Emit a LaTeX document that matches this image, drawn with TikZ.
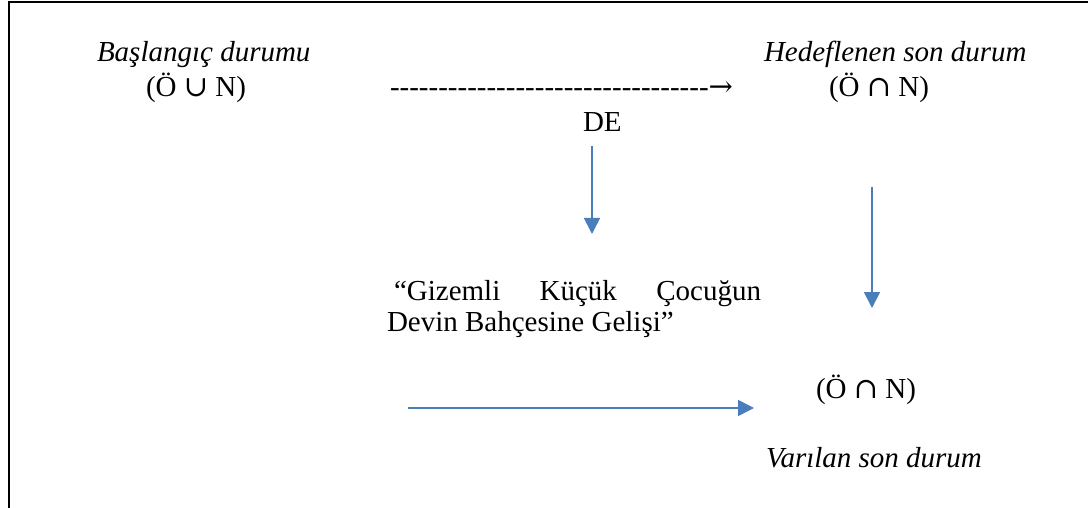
\documentclass[tikz,border=0pt]{standalone}
\usepackage{fontspec}
\setmainfont{Liberation Serif}
% hyphens must stay hyphens in the dashed arrow line
\newfontfamily\plainserif{Liberation Serif}[Ligatures=TeXOff]
% set operators and the text arrow
\newfontfamily\symserif{DejaVu Serif}
\newcommand{\setcup}{{\symserif ∪}}
\newcommand{\setcap}{{\symserif ∩}}
\usetikzlibrary{arrows.meta}
\definecolor{flowblue}{RGB}{74,126,187}
\begin{document}
\begin{tikzpicture}[x=1pt,y=-1pt,
  lbl/.style={inner sep=0pt, outer sep=0pt, anchor=base west,
              font=\fontsize{29}{32}\selectfont},
  ital/.style={lbl, font=\fontsize{29}{32}\selectfont\itshape},
  flow/.style={draw=flowblue, line width=1.7pt,
               -{Triangle[length=16pt,width=16pt]}},
  frameline/.style={line width=2pt, line join=miter}]
\useasboundingbox (0,0) rectangle (1088,508);

% open frame: left and top edges
\draw[frameline] (9,508) -- (9,2) -- (1088,2);

% initial state
\node[ital] (start) at (97,62) {Başlangıç durumu};
\node[lbl] (startset) at (146,97) {(Ö \setcup{} N)};

% intended final state
\node[ital] (goal) at (764,62) {Hedeflenen son durum};
\node[lbl] (goalset) at (829,97) {(Ö \setcap{} N)};

% dashed text arrow and its label
\node[lbl, font=\fontsize{29}{32}\plainserif] (dashes) at (390,97)
  {---------------------------------{\symserif →}};
\node[lbl] (de) at (583,132) {DE};

% event text
\node[lbl] (story) at (387,300) {\parbox[t]{374pt}{%
  \hspace*{7pt}“Gizemli\hfill Küçük\hfill Çocuğun\\
  Devin Bahçesine Gelişi”}};

% reached final state
\node[lbl] (reached) at (816,398) {(Ö \setcap{} N)};
\node[ital] (reachedname) at (766,467) {Varılan son durum};

% blue arrows
\coordinate (a1s) at (592,146);
\coordinate (a1e) at (592,234);
\coordinate (a2s) at (872,187);
\coordinate (a2e) at (872,308);
\coordinate (a3s) at (408,408);
\coordinate (a3e) at (754,408);
\draw[flow] (a1s) -- (a1e);
\draw[flow] (a2s) -- (a2e);
\draw[flow] (a3s) -- (a3e);
\end{tikzpicture}
\end{document}
